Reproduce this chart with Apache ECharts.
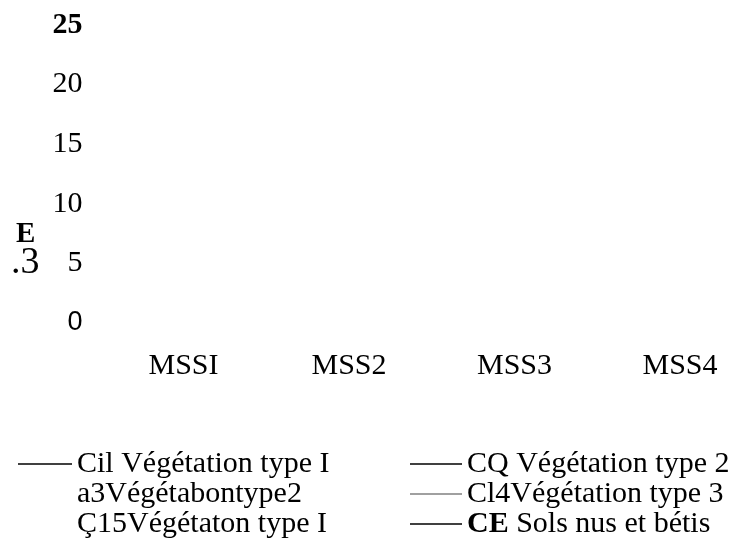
<!DOCTYPE html>
<html>
<head>
<meta charset="utf-8">
<script src="https://cdn.jsdelivr.net/npm/echarts@6/dist/echarts.min.js"></script>
<style>html,body{margin:0;padding:0;background:#fff}#c{width:729px;height:539px}</style>
</head>
<body>
<div id="c"></div>
<script>
// Categories (x axis)
const categories = ['MSSI', 'MSS2', 'MSS3', 'MSS4'];
// Y tick values
const yTicks = [0, 5, 10, 15, 20, 25];
// Series names (as printed in the legend)
const seriesNames = ['Cil Végétation type I', 'a3Végétabontype2', 'Ç15Végétaton type I',
                     'CQ Végétation type 2', 'Cl4Végétation type 3', 'CE Sols nus et bétis'];
// Series values: no line is visible in the plot area, so every value is unknown
const c11 = [null, null, null, null];
const c13 = [null, null, null, null];
const c15 = [null, null, null, null];
const c12 = [null, null, null, null];
const c14 = [null, null, null, null];
const c16 = [null, null, null, null];
const seriesValues = [c11, c13, c15, c12, c14, c16];
const seriesColors = ['#000', '#000', '#000', '#000', '#808080', '#000'];
// Which legend keys are visible in the picture
const legendKeyShown = [true, false, false, true, true, true];

const serif = 'Liberation Serif, Times New Roman, serif';
const chart = echarts.init(document.getElementById('c'), null, {renderer: 'canvas'});

function legendItems(idx) {
  return idx.map(i => ({
    name: seriesNames[i],
    itemStyle: {color: legendKeyShown[i] ? seriesColors[i] : 'rgba(0,0,0,0)'}
  }));
}
const legendText = {
  fontFamily: serif, fontSize: 30, color: '#000',
  rich: {b: {fontFamily: serif, fontSize: 30, fontWeight: 'bold', color: '#000'}}
};
const legendFmt = name => name.startsWith('CE ') ? '{b|CE}' + name.slice(2) : name;

chart.setOption({
  animation: false,
  backgroundColor: '#fff',
  grid: {left: 183.5, right: 49, top: 25, bottom: 216, containLabel: false},
  xAxis: {
    type: 'category', data: categories, boundaryGap: false,
    axisLine: {show: false}, axisTick: {show: false}, splitLine: {show: false},
    axisLabel: {fontFamily: serif, fontSize: 30, color: '#000', margin: 28, interval: 0}
  },
  yAxis: {
    type: 'value', min: yTicks[0], max: yTicks[yTicks.length - 1], interval: 5,
    axisLine: {show: false}, axisTick: {show: false}, splitLine: {show: false},
    axisLabel: {
      margin: 101, color: '#000',
      formatter: v => v === 25 ? '{b|' + v + '}' : (v === 0 ? '{s|' + v + '}' : '{n|' + v + '}'),
      rich: {
        b: {fontFamily: serif, fontSize: 30, fontWeight: 'bold', color: '#000'},
        n: {fontFamily: serif, fontSize: 30, color: '#000'},
        s: {fontFamily: 'Liberation Sans, Arial, sans-serif', fontSize: 27, color: '#000'}
      }
    }
  },
  legend: [
    {
      data: legendItems([0, 1, 2]), orient: 'vertical', left: 18, top: 449, height: 90, padding: 0,
      itemGap: 0, itemWidth: 54, itemHeight: 1.5, icon: 'rect',
      textStyle: legendText, formatter: legendFmt, selectedMode: false
    },
    {
      data: legendItems([3, 4, 5]), orient: 'vertical', left: 410, top: 449, height: 90, padding: 0,
      itemGap: 0, itemWidth: 52, itemHeight: 1.5, icon: 'rect',
      textStyle: legendText, formatter: legendFmt, selectedMode: false
    }
  ],
  graphic: [
    {type: 'text', left: 16, top: 220, style: {text: 'E', font: 'bold 29px ' + serif, fill: '#000'}},
    {type: 'text', left: 11, top: 244, style: {text: '.3', font: '38px ' + serif, fill: '#000'}}
  ],
  series: seriesNames.map((n, i) => ({
    name: n, type: 'line', data: seriesValues[i], showSymbol: false,
    itemStyle: {color: seriesColors[i]}, lineStyle: {color: seriesColors[i], width: 1.5}
  }))
});
</script>
</body>
</html>
